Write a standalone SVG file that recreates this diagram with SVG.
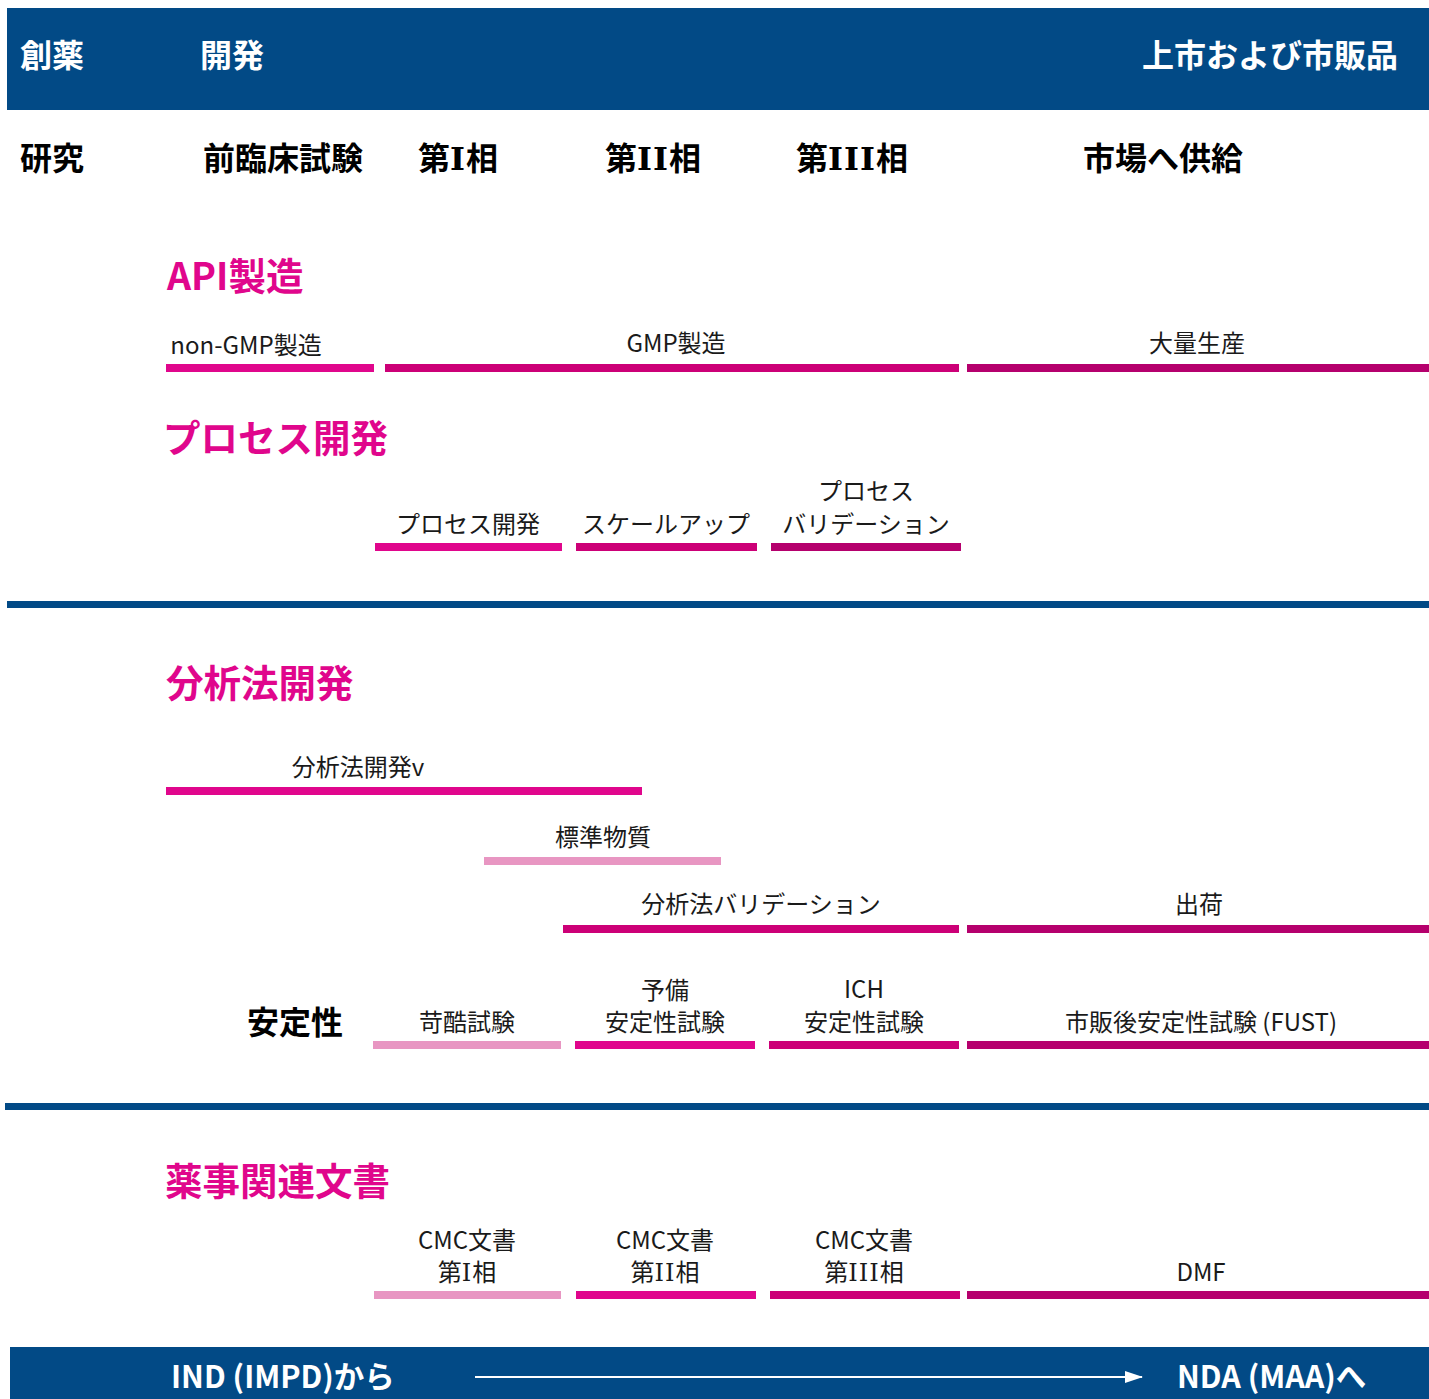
<svg xmlns="http://www.w3.org/2000/svg" width="1429" height="1399" viewBox="0 0 1429 1399">
<style>
text{font-family:"Noto Sans CJK JP","Noto Sans",sans-serif;}
.hw{fill:#ffffff;font-weight:700;font-size:32px;}
.hb{fill:#000000;font-weight:700;font-size:32px;}
.hm{fill:#E0068C;font-weight:700;font-size:37.5px;}
.lb{fill:#1a1a1a;font-size:24px;text-anchor:middle;}
.rn{font-family:"DejaVu Serif","Liberation Serif",serif;letter-spacing:1px;}
.navy{fill:#024A86;}
.c1{fill:#E896C2;}
.c2{fill:#E0068C;}
.c3{fill:#CC0077;}
.c4{fill:#B5006D;}
</style>
<defs>
<marker id="ah" markerWidth="18" markerHeight="12" refX="17" refY="6" orient="auto" markerUnits="userSpaceOnUse" viewBox="0 0 18 12">
<polygon points="0,0 18,6 0,12" fill="#ffffff"/>
</marker>
</defs>
<rect width="1429" height="1399" fill="#ffffff"/>

<g id="top-bar">
<rect class="navy" x="7" y="8" width="1422" height="102"/>
<text class="hw" x="20" y="67">創薬</text>
<text class="hw" x="200" y="67">開発</text>
<text class="hw" x="1398" y="67" text-anchor="end">上市および市販品</text>
</g>

<g id="phases">
<text class="hb" x="20" y="170">研究</text>
<text class="hb" x="203" y="170">前臨床試験</text>
<text class="hb" x="418" y="170">第<tspan class="rn">I</tspan>相</text>
<text class="hb" x="605" y="170">第<tspan class="rn">II</tspan>相</text>
<text class="hb" x="796" y="170">第<tspan class="rn">III</tspan>相</text>
<text class="hb" x="1083" y="170">市場へ供給</text>
</g>

<g id="api-heading"><text class="hm" x="167" y="290">API製造</text></g>
<g id="non-gmp"><rect class="c2" x="166" y="364" width="208" height="8"/><text class="lb" x="246" y="354">non-GMP製造</text></g>
<g id="gmp"><rect class="c3" x="385" y="364" width="574" height="8"/><text class="lb" x="676" y="352">GMP製造</text></g>
<g id="mass"><rect class="c4" x="967" y="364" width="462" height="8"/><text class="lb" x="1197" y="352">大量生産</text></g>

<g id="process-heading"><text class="hm" x="163" y="452">プロセス開発</text></g>
<g id="process-dev"><rect class="c2" x="375" y="543" width="187" height="8"/><text class="lb" x="468" y="533">プロセス開発</text></g>
<g id="scale-up"><rect class="c3" x="576" y="543" width="181" height="8"/><text class="lb" x="666" y="533">スケールアップ</text></g>
<g id="process-val"><rect class="c4" x="771" y="543" width="190" height="8"/><text class="lb" x="866" y="500">プロセス</text><text class="lb" x="866" y="533">バリデーション</text></g>

<g id="sep1"><rect class="navy" x="7" y="601" width="1422" height="7"/></g>

<g id="analytical-heading"><text class="hm" x="166" y="697">分析法開発</text></g>
<g id="analytical-dev"><rect class="c2" x="166" y="787" width="476" height="8"/><text class="lb" x="358" y="776">分析法開発v</text></g>
<g id="reference"><rect class="c1" x="484" y="857" width="237" height="8"/><text class="lb" x="603" y="846">標準物質</text></g>
<g id="analytical-val"><rect class="c3" x="563" y="925" width="396" height="8"/><text class="lb" x="761" y="913">分析法バリデーション</text></g>
<g id="release"><rect class="c4" x="967" y="925" width="462" height="8"/><text class="lb" x="1199" y="913">出荷</text></g>

<g id="stability-heading"><text class="hb" x="247" y="1034">安定性</text></g>
<g id="stress"><rect class="c1" x="373" y="1041" width="188" height="8"/><text class="lb" x="467" y="1031">苛酷試験</text></g>
<g id="prelim"><rect class="c2" x="575" y="1041" width="180" height="8"/><text class="lb" x="665" y="999">予備</text><text class="lb" x="665" y="1031">安定性試験</text></g>
<g id="ich"><rect class="c3" x="769" y="1041" width="190" height="8"/><text class="lb" x="864" y="998">ICH</text><text class="lb" x="864" y="1031">安定性試験</text></g>
<g id="fust"><rect class="c4" x="967" y="1041" width="462" height="8"/><text class="lb" x="1201" y="1031">市販後安定性試験 (FUST)</text></g>

<g id="sep2"><rect class="navy" x="5" y="1103" width="1424" height="7"/></g>

<g id="regulatory-heading"><text class="hm" x="165" y="1195">薬事関連文書</text></g>
<g id="cmc1"><rect class="c1" x="374" y="1291" width="187" height="8"/><text class="lb" x="467" y="1249">CMC文書</text><text class="lb" x="467" y="1281">第<tspan class="rn">I</tspan>相</text></g>
<g id="cmc2"><rect class="c2" x="576" y="1291" width="180" height="8"/><text class="lb" x="665" y="1249">CMC文書</text><text class="lb" x="665" y="1281">第<tspan class="rn">II</tspan>相</text></g>
<g id="cmc3"><rect class="c3" x="770" y="1291" width="190" height="8"/><text class="lb" x="864" y="1249">CMC文書</text><text class="lb" x="864" y="1281">第<tspan class="rn">III</tspan>相</text></g>
<g id="dmf"><rect class="c4" x="967" y="1291" width="462" height="8"/><text class="lb" x="1201" y="1281">DMF</text></g>

<g id="bottom-bar">
<rect class="navy" x="10" y="1347" width="1419" height="52"/>
<text class="hw" x="171" y="1388" style="font-size:30.5px">IND (IMPD)から</text>
<text class="hw" x="1177" y="1388" style="font-size:30.5px">NDA (MAA)へ</text>
</g>

<g id="connectors">
<line x1="475" y1="1377" x2="1142" y2="1377" stroke="#ffffff" stroke-width="2" marker-end="url(#ah)"/>
</g>
</svg>
